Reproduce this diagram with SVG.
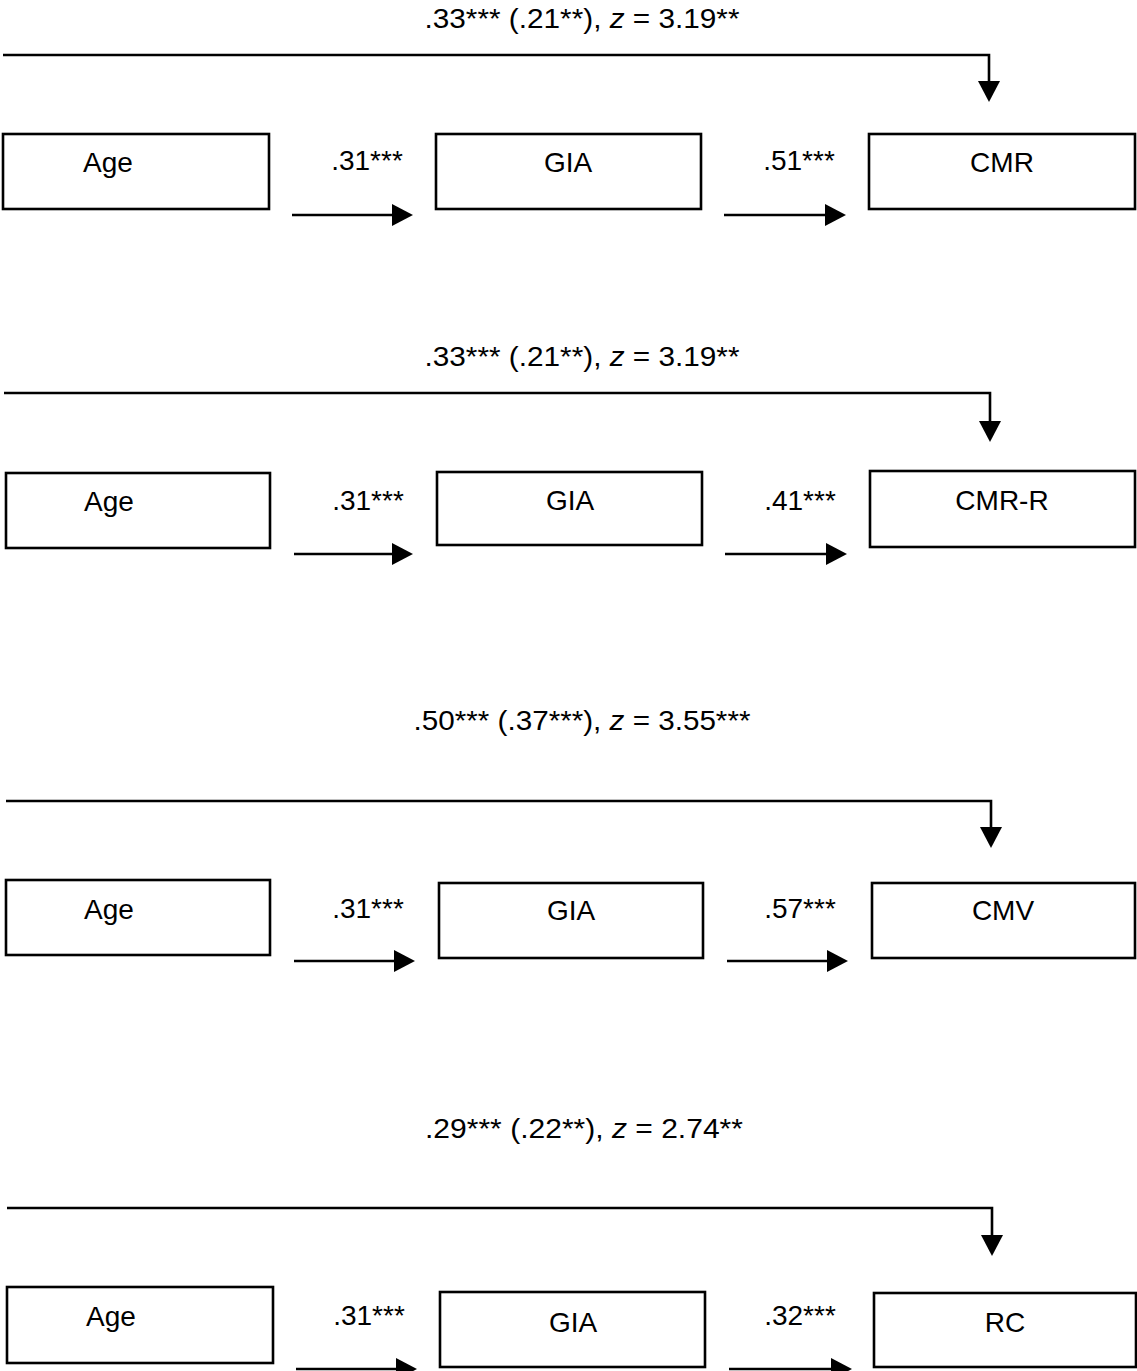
<svg xmlns="http://www.w3.org/2000/svg" width="1137" height="1371" viewBox="0 0 1137 1371">
<style>
.box{fill:#fff;stroke:#000;stroke-width:2.6}
.t{font-family:"Liberation Sans",Arial,sans-serif;font-size:28px;fill:#000;text-anchor:middle}
.c{fill:none;stroke:#000;stroke-width:2.6}
</style>
<defs>
<marker id="ah" markerUnits="userSpaceOnUse" viewBox="0 0 21 22" markerWidth="21" markerHeight="22" refX="11" refY="11" orient="auto">
<path d="M0,0 L21,11 L0,22 Z" fill="#000"/>
</marker>
</defs>
<rect width="1137" height="1371" fill="#fff"/>

<g id="connectors">
<path class="c" d="M3,55 H989 V92" marker-end="url(#ah)"/>
<path class="c" d="M292,215 H403" marker-end="url(#ah)"/>
<path class="c" d="M724,215 H836" marker-end="url(#ah)"/>

<path class="c" d="M4,393 H990 V432" marker-end="url(#ah)"/>
<path class="c" d="M294,554 H403" marker-end="url(#ah)"/>
<path class="c" d="M725,554 H837" marker-end="url(#ah)"/>

<path class="c" d="M6,801 H991 V838" marker-end="url(#ah)"/>
<path class="c" d="M294,961 H405" marker-end="url(#ah)"/>
<path class="c" d="M727,961 H838" marker-end="url(#ah)"/>

<path class="c" d="M7,1208 H992 V1246" marker-end="url(#ah)"/>
<path class="c" d="M296,1369 H407" marker-end="url(#ah)"/>
<path class="c" d="M729,1369 H842" marker-end="url(#ah)"/>
</g>

<g id="labels">
<text class="t" x="582" y="28" textLength="315" lengthAdjust="spacingAndGlyphs">.33*** (.21**), <tspan font-style="italic">z</tspan> = 3.19**</text>
<text class="t" x="367" y="170">.31***</text>
<text class="t" x="799" y="170">.51***</text>

<text class="t" x="582" y="366" textLength="315" lengthAdjust="spacingAndGlyphs">.33*** (.21**), <tspan font-style="italic">z</tspan> = 3.19**</text>
<text class="t" x="368" y="510">.31***</text>
<text class="t" x="800" y="510">.41***</text>

<text class="t" x="582" y="730" textLength="337" lengthAdjust="spacingAndGlyphs">.50*** (.37***), <tspan font-style="italic">z</tspan> = 3.55***</text>
<text class="t" x="368" y="918">.31***</text>
<text class="t" x="800" y="918">.57***</text>

<text class="t" x="584" y="1138" textLength="318" lengthAdjust="spacingAndGlyphs">.29*** (.22**), <tspan font-style="italic">z</tspan> = 2.74**</text>
<text class="t" x="369" y="1325">.31***</text>
<text class="t" x="800" y="1325">.32***</text>
</g>

<g id="age1"><rect class="box" x="3" y="134" width="266" height="75"/><text class="t" x="108" y="172">Age</text></g>
<g id="gia1"><rect class="box" x="436" y="134" width="265" height="75"/><text class="t" x="568" y="172">GIA</text></g>
<g id="cmr"><rect class="box" x="869" y="134" width="266" height="75"/><text class="t" x="1002" y="172">CMR</text></g>

<g id="age2"><rect class="box" x="6" y="473" width="264" height="75"/><text class="t" x="109" y="511">Age</text></g>
<g id="gia2"><rect class="box" x="437" y="472" width="265" height="73"/><text class="t" x="570" y="510">GIA</text></g>
<g id="cmrr"><rect class="box" x="870" y="471" width="265" height="76"/><text class="t" x="1002" y="510">CMR-R</text></g>

<g id="age3"><rect class="box" x="6" y="880" width="264" height="75"/><text class="t" x="109" y="919">Age</text></g>
<g id="gia3"><rect class="box" x="439" y="883" width="264" height="75"/><text class="t" x="571" y="920">GIA</text></g>
<g id="cmv"><rect class="box" x="872" y="883" width="263" height="75"/><text class="t" x="1003" y="920">CMV</text></g>

<g id="age4"><rect class="box" x="7" y="1287" width="266" height="76"/><text class="t" x="111" y="1326">Age</text></g>
<g id="gia4"><rect class="box" x="440" y="1292" width="265" height="75"/><text class="t" x="573" y="1332">GIA</text></g>
<g id="rc"><rect class="box" x="874" y="1293" width="262" height="74"/><text class="t" x="1005" y="1332">RC</text></g>
</svg>
